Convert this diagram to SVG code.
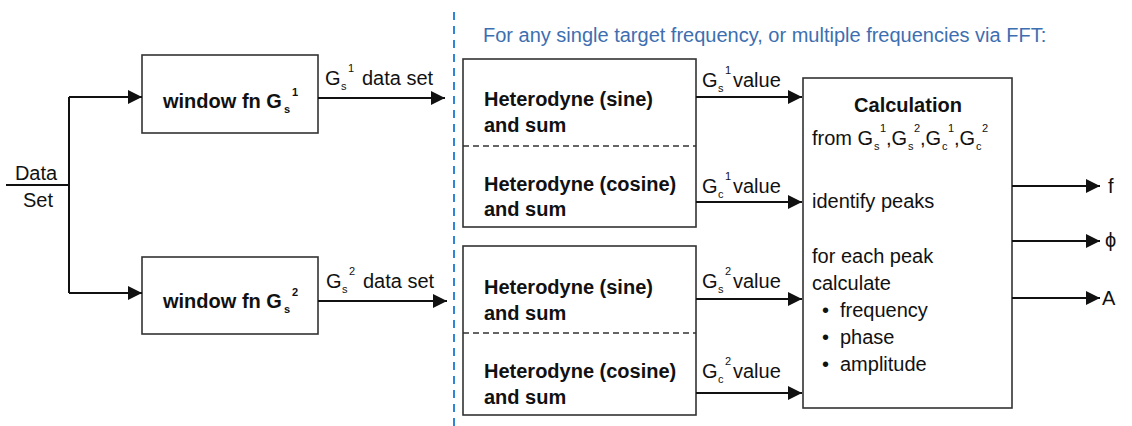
<svg xmlns="http://www.w3.org/2000/svg" width="1132" height="426" viewBox="0 0 1132 426">
<style>
text{font-family:"Liberation Sans",Arial,"DejaVu Sans",sans-serif;font-size:20px;fill:#111}
.b{font-weight:bold}
.sm{font-size:11px}
.box{fill:#fff;stroke:#333;stroke-width:1.6}
.div{stroke:#333;stroke-width:1.6;stroke-dasharray:6 4;fill:none}
.ln{stroke:#111;stroke-width:2;fill:none}
.ar{stroke:#111;stroke-width:2;fill:none;marker-end:url(#ah)}
.blue{fill:#3d6fb0}
</style>
<defs>
<marker id="ah" markerUnits="userSpaceOnUse" markerWidth="15" markerHeight="14" refX="14" refY="7" orient="auto">
<path d="M0,0 L14,7 L0,14 z" fill="#111"/>
</marker>
</defs>
<rect width="1132" height="426" fill="#fff"/>

<g id="separator">
<line x1="454" y1="12" x2="454" y2="426" stroke="#2f86d5" stroke-width="2" stroke-dasharray="8 6"/>
<text class="blue" x="483" y="42">For any single target frequency, or multiple frequencies via FFT:</text>
</g>

<g id="data-set">
<text x="36" y="180" text-anchor="middle">Data</text>
<text x="38" y="207" text-anchor="middle">Set</text>
</g>

<g id="window1">
<rect class="box" x="142" y="55" width="176" height="78"/>
<text class="b" x="163" y="108">window fn G<tspan class="sm" x="284" y="113">s</tspan><tspan class="sm" x="292" y="96">1</tspan></text>
</g>

<g id="window2">
<rect class="box" x="142" y="257" width="176" height="77"/>
<text class="b" x="163" y="308">window fn G<tspan class="sm" x="284" y="313">s</tspan><tspan class="sm" x="292" y="296">2</tspan></text>
</g>

<g id="heterodyne1">
<rect class="box" x="463" y="59" width="233" height="168"/>
<line class="div" x1="463" y1="146" x2="696" y2="146"/>
<text class="b" x="484" y="106">Heterodyne (sine)</text>
<text class="b" x="484" y="132">and sum</text>
<text class="b" x="484" y="191">Heterodyne (cosine)</text>
<text class="b" x="484" y="216">and sum</text>
</g>

<g id="heterodyne2">
<rect class="box" x="463" y="246" width="233" height="169"/>
<line class="div" x1="463" y1="333" x2="696" y2="333"/>
<text class="b" x="484" y="294">Heterodyne (sine)</text>
<text class="b" x="484" y="320">and sum</text>
<text class="b" x="484" y="378">Heterodyne (cosine)</text>
<text class="b" x="484" y="404">and sum</text>
</g>

<g id="calculation">
<rect class="box" x="803" y="78" width="209" height="330"/>
<text class="b" x="908" y="112" text-anchor="middle">Calculation</text>
<text x="812" y="145">from G<tspan class="sm" x="874" y="150">s</tspan><tspan class="sm" x="880" y="132">1</tspan><tspan x="886" y="145">,G</tspan><tspan class="sm" x="908" y="150">s</tspan><tspan class="sm" x="914" y="132">2</tspan><tspan x="920" y="145">,G</tspan><tspan class="sm" x="942" y="150">c</tspan><tspan class="sm" x="948" y="132">1</tspan><tspan x="954" y="145">,G</tspan><tspan class="sm" x="976" y="150">c</tspan><tspan class="sm" x="982" y="132">2</tspan></text>
<text x="812" y="208">identify peaks</text>
<text x="812" y="263">for each peak</text>
<text x="812" y="290">calculate</text>
<text x="822" y="317">•</text><text x="840" y="317">frequency</text>
<text x="822" y="344">•</text><text x="840" y="344">phase</text>
<text x="822" y="371">•</text><text x="840" y="371">amplitude</text>
</g>

<g id="outputs">
<text x="1108" y="193">f</text>
<text x="1105" y="247">ϕ</text>
<text x="1102" y="305">A</text>
</g>

<g id="connectors">
<path class="ln" d="M6,185 H69 M69,97 V293"/>
<path class="ar" d="M69,97 H142"/>
<path class="ar" d="M69,293 H142"/>
<path class="ar" d="M318,98 H445"/>
<path class="ar" d="M318,301 H447"/>
<path class="ar" d="M696,97 H802"/>
<path class="ar" d="M696,202 H802"/>
<path class="ar" d="M696,299 H802"/>
<path class="ar" d="M696,393 H802"/>
<path class="ar" d="M1012,186 H1100"/>
<path class="ar" d="M1012,241 H1100"/>
<path class="ar" d="M1012,298 H1100"/>
</g>

<g id="connector-labels">
<text x="325" y="85">G<tspan class="sm" x="341" y="90">s</tspan><tspan class="sm" x="348" y="72">1</tspan><tspan x="362" y="85">data set</tspan></text>
<text x="326" y="288">G<tspan class="sm" x="342" y="293">s</tspan><tspan class="sm" x="349" y="275">2</tspan><tspan x="363" y="288">data set</tspan></text>
<text x="702" y="87">G<tspan class="sm" x="718" y="92">s</tspan><tspan class="sm" x="725" y="74">1</tspan><tspan x="733" y="87">value</tspan></text>
<text x="702" y="193">G<tspan class="sm" x="718" y="198">c</tspan><tspan class="sm" x="725" y="180">1</tspan><tspan x="733" y="193">value</tspan></text>
<text x="702" y="288">G<tspan class="sm" x="718" y="293">s</tspan><tspan class="sm" x="725" y="275">2</tspan><tspan x="733" y="288">value</tspan></text>
<text x="702" y="378">G<tspan class="sm" x="718" y="383">c</tspan><tspan class="sm" x="725" y="365">2</tspan><tspan x="733" y="378">value</tspan></text>
</g>
</svg>
